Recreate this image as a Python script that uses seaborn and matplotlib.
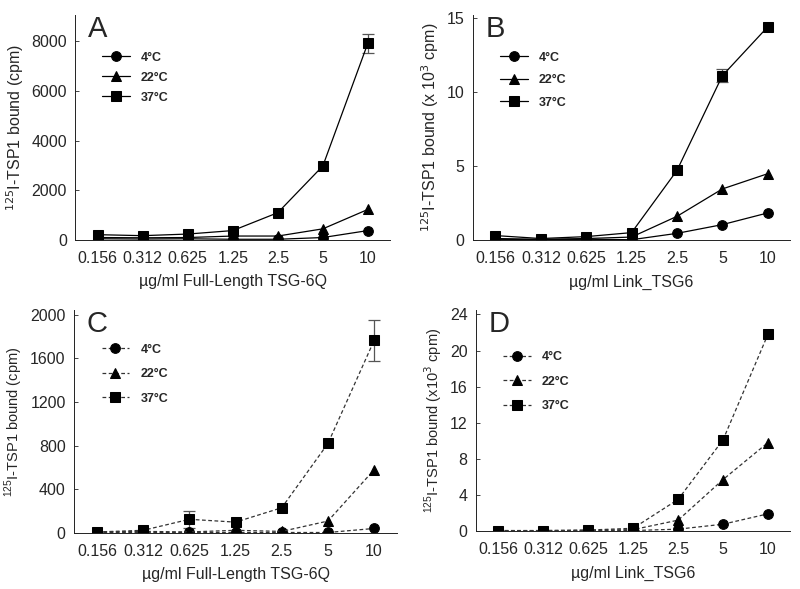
import numpy as np
import pandas as pd
import matplotlib
matplotlib.use("Agg")
import matplotlib.pyplot as plt
import seaborn as sns

conc = ["0.156", "0.312", "0.625", "1.25", "2.5", "5", "10"]
temps = ["4°C", "22°C", "37°C"]

# panel A: full-length TSG-6Q, cpm
a_4 = [50, 40, 50, 30, 30, 100, 380]
a_22 = [100, 90, 100, 160, 160, 450, 1230]
a_37 = [215, 175, 240, 380, 1100, 2980, 7920]
a_37_err = [0, 0, 0, 0, 0, 0, 380]

# panel B: Link_TSG6, x10^3 cpm
b_4 = [0.05, 0.02, 0.05, 0.02, 0.45, 1.04, 1.83]
b_22 = [0.1, 0.05, 0.1, 0.2, 1.6, 3.45, 4.48]
b_37 = [0.3, 0.1, 0.23, 0.5, 4.7, 11.1, 14.4]
b_37_err = [0, 0, 0, 0, 0, 0.45, 0]

# panel C: full-length TSG-6Q, cpm
c_4 = [5, 5, 5, 5, 5, 5, 42]
c_22 = [10, 15, 10, 25, 15, 110, 580]
c_37 = [10, 25, 126, 100, 232, 821, 1765]
c_37_err = [0, 0, 78, 0, 0, 0, 185]

# panel D: Link_TSG6, x10^3 cpm
d_4 = [0.02, 0.02, 0.05, 0.05, 0.2, 0.75, 1.9]
d_22 = [0.03, 0.04, 0.08, 0.15, 1.2, 5.7, 9.8]
d_37 = [0.05, 0.05, 0.1, 0.3, 3.5, 10.1, 21.8]

sns.set_theme(style="ticks")
plt.rcParams['font.family'] = ['Liberation Sans', 'DejaVu Sans']

fig = plt.figure(figsize=(8, 5.89), dpi=100)
axA = fig.add_axes([0.094, 0.5925, 0.394, 0.382])
axB = fig.add_axes([0.591, 0.5925, 0.397, 0.382])
axC = fig.add_axes([0.0925, 0.095, 0.404, 0.379])
axD = fig.add_axes([0.595, 0.0985, 0.393, 0.376])

markers = ["o", "^", "s"]
sizes = [7, 7.5, 7.5]


def draw_panel(ax, series, errs, letter, ylim, yticks, ylabel, xlabel, dashed,
               ylab_size, leg_y, leg_space):
    x = np.arange(len(conc))
    for vals, lab, m, ms in zip(series, temps, markers, sizes):
        df = pd.DataFrame({"x": x, "y": vals})
        sns.lineplot(data=df, x="x", y="y", ax=ax, color="black", marker=m,
                     markersize=ms, markeredgecolor="black", linewidth=0.9,
                     label=lab, legend=False)
        if dashed:
            ax.lines[-1].set_dashes((3, 2))
            ax.lines[-1].set_color("#333333")
            ax.lines[-1].set_markerfacecolor("black")
            ax.lines[-1].set_markeredgecolor("black")
    for vals, err in errs:
        err = np.array(err, dtype=float)
        mask = err > 0
        ax.errorbar(x[mask], np.array(vals)[mask], yerr=err[mask], fmt="none",
                    ecolor="#555555", elinewidth=0.9, capsize=4, capthick=0.9, zorder=1)
    ax.set_xlim(-0.5, 6.5)
    ax.set_ylim(*ylim)
    ax.set_xticks(x)
    ax.set_xticklabels(conc)
    ax.set_yticks(yticks)
    ax.tick_params(axis="x", length=0, labelsize=11.5, pad=8)
    ax.tick_params(axis="y", direction="in", length=3, width=0.6, labelsize=11.5, pad=6)
    ax.set_xlabel(xlabel, fontsize=11.5, labelpad=6)
    ax.set_ylabel(ylabel, fontsize=ylab_size, labelpad=4)
    sns.despine(ax=ax)
    for s in ["left", "bottom"]:
        ax.spines[s].set_linewidth(0.7)
        ax.spines[s].set_color("#222222")
    ax.text(0.04, 1.0, letter, transform=ax.transAxes, fontsize=21, va="top", ha="left")
    ax.legend(loc="upper left", bbox_to_anchor=(0.07, leg_y), frameon=False,
              prop={"weight": "bold", "size": 9}, handlelength=2.2,
              labelspacing=leg_space, handletextpad=0.9, borderaxespad=0)


draw_panel(axA, [a_4, a_22, a_37], [(a_37, a_37_err)], "A", (0, 9050),
           [0, 2000, 4000, 6000, 8000], "$^{125}$I-TSP1 bound (cpm)",
           "µg/ml Full-Length TSG-6Q", False, 11.5, 0.86, 0.65)
draw_panel(axB, [b_4, b_22, b_37], [(b_37, b_37_err)], "B", (0, 15.2),
           [0, 5, 10, 15], "$^{125}$I-TSP1 bound (x 10$^3$ cpm)",
           "µg/ml Link_TSG6", False, 11.5, 0.86, 0.85)
draw_panel(axC, [c_4, c_22, c_37], [(c_37, c_37_err)], "C", (0, 2046),
           [0, 400, 800, 1200, 1600, 2000], "$^{\\mathregular{125}}$I-TSP1 bound (cpm)",
           "µg/ml Full-Length TSG-6Q", True, 10.5, 0.87, 1.0)
draw_panel(axD, [d_4, d_22, d_37], [], "D", (0, 24.55),
           [0, 4, 8, 12, 16, 20, 24], "$^{\\mathregular{125}}$I-TSP1 bound (x10$^3$ cpm)",
           "µg/ml Link_TSG6", True, 10.5, 0.835, 1.0)

fig.savefig("out.png", dpi=100)
